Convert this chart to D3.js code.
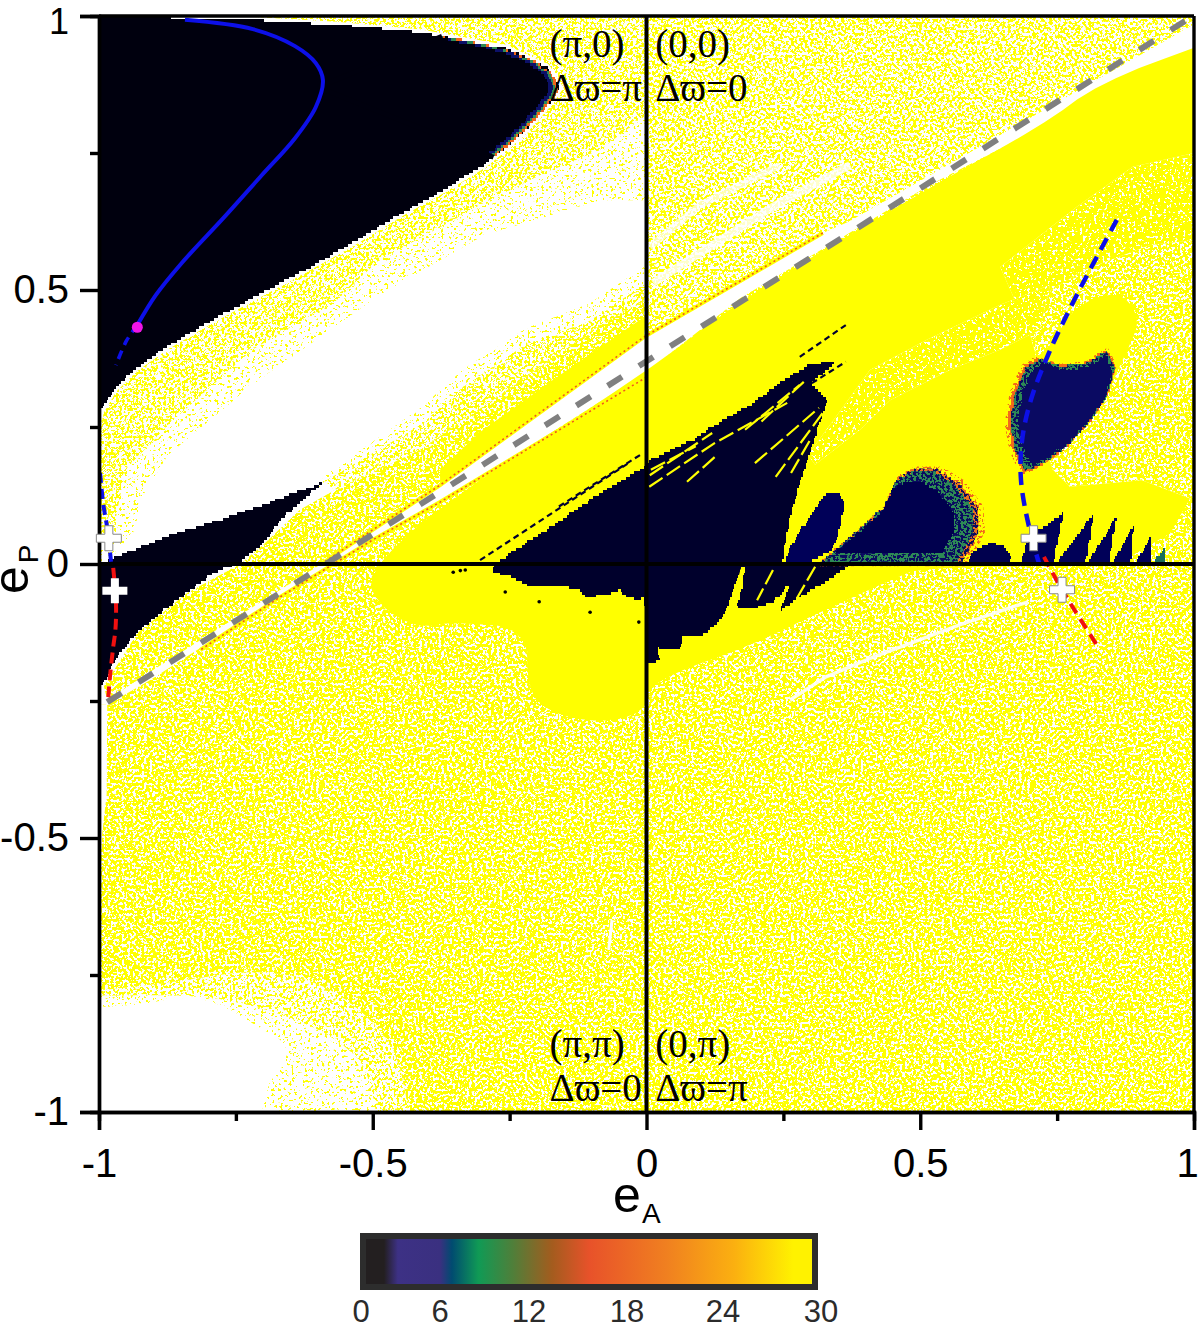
<!DOCTYPE html>
<html><head><meta charset="utf-8">
<script src="https://cdn.jsdelivr.net/npm/d3@7/dist/d3.min.js"></script>
<style>html,body{margin:0;padding:0;background:#fff}svg{display:block}text{font-family:"Liberation Sans",Arial,sans-serif}</style>
</head><body><div id="chart"></div>
<script>
// ---- axis data
const majorTicks=[-1,-0.5,0,0.5,1];
const minorTicks=[-0.75,-0.25,0.25,0.75];
const cbTicks=[0,6,12,18,24,30];
const cbTickPos=[361,440,529,627,723,821];
const cbStops=[[0,"#231f20"],[1.75,"#231f20"],[2.8,"#3d3185"],[6,"#3a3080"],[6.8,"#004b70"],[8.6,"#109a55"],[10.9,"#4f7f3a"],[13.4,"#a35c1e"],[15.7,"#e8522a"],[20.5,"#f08020"],[24.7,"#fbb010"],[28.3,"#fff200"],[30,"#fff200"]];
const mainBlack=[[-1,1],[-.72,.993],[-.565,.984],[-.412,.97],[-.258,.942],[-.182,.907],[-.158,.869],[-.174,.845],[-.227,.785],[-.297,.728],[-.374,.681],[-.45,.639],[-.543,.582],[-.642,.527],[-.72,.485],[-.797,.443],[-.874,.398],[-.934,.356],[-.973,.318],[-.996,.279],[-1,.263]];
const leftWedge=[[-.998,-.002],[-.974,.011],[-.874,.051],[-.72,.1],[-.589,.15],[-.614,.13],[-.669,.08],[-.7,.038],[-.742,.002],[-.792,-.016],[-.839,-.053],[-.888,-.089],[-.93,-.126],[-.967,-.17],[-.992,-.217],[-.998,-.224]];
const bandFringe=[[-1,1],[0,1],[0,.664],[-.085,.664],[-.297,.6],[-.488,.491],[-.565,.436],[-.72,.327],[-.874,.199],[-.925,.117],[-.934,.062],[-.974,.013],[-1,0]];
const bandUpper=[[-1,1],[0,1],[0,.82],[-.085,.756],[-.194,.71],[-.297,.659],[-.373,.617],[-.488,.555],[-.565,.482],[-.72,.391],[-.874,.254],[-.952,.172],[-.97,.08],[-1,.044]];
const lowerFringe=[[0,.545],[-.105,.475],[-.22,.43],[-.335,.355],[-.412,.285],[-.589,.16],[-.6,.14],[-.414,.208],[-.268,.308],[-.085,.436],[0,.482]];
const lowerBand=[[0,.513],[-.105,.443],[-.22,.401],[-.335,.323],[-.412,.254],[-.589,.15],[-.569,.135],[-.414,.208],[-.268,.308],[-.085,.436],[0,.482]];
const midDense=[[0,.482],[-.085,.436],[-.268,.308],[-.414,.208],[-.569,.135],[-.633,.099],[-.7,.035],[-.742,0],[-.839,-.053],[-.93,-.126],[-.991,-.223],[-.985,-.248],[-.907,-.197],[-.591,.002],[-.377,.144],[-.005,.414]];
const midSolid=[[0,.454],[-.158,.345],[-.304,.241],[-.377,.172],[-.377,.144],[-.005,.414]];
const lowerField=[[-1,-1],[1,-1],[1,.94],[.518,.692],[.171,.485],[0,.35],[-.377,.111],[-.5,.04],[-.669,-.06],[-.907,-.212],[-.985,-.257],[-1,-.257]];
const topRight=[[0,1],[1,1],[1,.985],[.646,.783],[.37,.625],[.322,.604],[.171,.513],[0,.414]];
const solidMain=[[1.02,.95],[.828,.878],[.719,.798],[.518,.688],[.171,.482],[0,.35],[-.377,.108],[-.514,-.02],[-.487,-.078],[-.419,-.117],[-.359,-.106],[-.218,-.117],[-.218,-.23],[-.176,-.272],[-.085,-.29],[-.006,-.272],[0,-.23],[.054,-.197],[.185,-.151],[.315,-.089],[.446,-.029],[.509,-.004],[1.06,-.004],[1.06,.96]];
const rightSparse=[[.646,.542],[.786,.652],[.888,.725],[1,.75],[1,.17],[.87,.15],[.75,.18],[.69,.3],[.72,.35],[.7,.42]];
const rightDense=[[.71,.482],[.8,.537],[.92,.582],[1,.591],[1,.117],[.905,.153],[.773,.141],[.742,.172],[.71,.263]];
const heartSolid=[[.737,.391],[.773,.46],[.828,.491],[.874,.491],[.901,.445],[.883,.4],[.861,.354],[.841,.305],[.762,.208],[.689,.166],[.645,.245],[.645,.336]];
const patchB=[[.408,.354],[.512,.409],[.646,.473],[.737,.509],[.718,.427],[.646,.391],[.554,.354],[.445,.299],[.39,.245],[.308,.181],[.295,.199]];
const leftGap=[[-1,-.257],[-.985,-.257],[-.986,-.42],[-.995,-.5],[-1,-.6]];
const bottomFade60=[[-1.1,-.79],[-.84,-.76],[-.72,-.74],[-.6,-.76],[-.5,-.83],[-.44,-.92],[-.42,-1.2],[-1.1,-1.2]];
const bottomFade30=[[-1.1,-.79],[-.84,-.785],[-.74,-.8],[-.64,-.83],[-.56,-.87],[-.5,-.93],[-.47,-1.2],[-1.1,-1.2]];
const bottomWhite=[[-1.1,-.808],[-.946,-.808],[-.837,-.787],[-.773,-.805],[-.7,-.85],[-.664,-.869],[-.655,-.905],[-.7,-.96],[-.705,-1.1],[-1.1,-1.1]];
const fan=[[-.277,0],[-.218,.04],[-.163,.075],[-.103,.117],[-.036,.159],[-.003,.177],[.006,.19],[.085,.226],[.12,.25],[.185,.287],[.251,.336],[.297,.363],[.35,.372],[.3,.33],[.33,.3],[.322,.276],[.302,.214],[.282,.153],[.264,.093],[.249,.013],[.247,0],[.372,-.002],[.311,-.042],[.28,-.06],[.244,-.084],[.262,-.035],[.231,-.071],[.194,-.08],[.167,-.078],[.18,-.005],[.174,-.005],[.152,-.066],[.14,-.097],[.11,-.125],[.098,-.133],[.067,-.133],[.061,-.157],[.019,-.153],[.025,-.175],[.003,-.184],[-.003,-.06],[-.012,-.066],[-.045,-.057],[-.048,-.047],[-.072,-.057],[-.109,-.06],[-.127,-.044],[-.171,-.042],[-.218,-.038],[-.246,-.024],[-.28,-.016],[-.282,-.004]];
const lensLobe=[[.247,.007],[.302,.093],[.33,.13],[.348,.131],[.361,.117],[.355,.068],[.342,.031],[.322,.013],[.28,0]];
const bigLobe=[[.315,0],[.381,.057],[.434,.104],[.459,.159],[.487,.172],[.532,.172],[.571,.148],[.604,.104],[.607,.057],[.578,.004],[.572,0]];
const smallLobe=[[.582,0],[.598,.026],[.631,.04],[.657,.031],[.669,0]];
const tooth1=[[.682,0],[.698,.049],[.762,.093],[.742,0]];
const tooth2=[[.748,0],[.817,.093],[.801,0]];
const tooth3=[[.804,0],[.859,.086],[.843,0]];
const tooth4=[[.85,0],[.89,.071],[.883,0]];
const tooth5=[[.892,0],[.919,.047],[.921,0]];
const tooth6=[[.925,0],[.945,.029],[.948,0]];
const teardrop=[[.689,.166],[.669,.208],[.66,.257],[.669,.312],[.689,.36],[.715,.376],[.755,.363],[.801,.367],[.841,.391],[.857,.36],[.841,.305],[.808,.257],[.762,.208],[.715,.177]];
const fanStreaks=[[[.005,.141],[.125,.221],[.257,.294]],[[.198,.184],[.315,.285]],[[.236,.159],[.322,.276]],[[.074,.15],[.129,.199]],[[.264,.166],[.302,.232]],[[.006,.162],[.12,.239]],[[.18,.245],[.28,.327]],[[.21,.26],[.29,.335]],[[.008,.172],[.09,.215]],[[-.194,.08],[-.02,.178]],[[.231,-.011],[.202,-.066]],[[.308,-.005],[.275,-.062]],[[.174,-.009],[.152,-.09]]];
const darkFringes=[[[.28,.378],[.364,.436]],[[.302,.33],[.364,.369]],[[-.304,.007],[-.03,.186]],[[-.16,.105],[-.01,.2]]];
const darkDots=[[-.258,-.051],[-.196,-.069],[-.103,-.088],[-.014,-.106],[-.331,-.011],[-.353,-.015],[-.34,-.012]];
const resUpper=[[.322,.604],[-.005,.414],[-.377,.144],[-.591,.002]];
const resLower=[[0,.341],[-.377,.113],[-.5,.044],[-.669,-.06],[-.815,-.157]];
const greyLine=[[-.985,-.252],[.987,.993]];
const whiteStreakLow=[[.697,-.069],[.572,-.111],[.414,-.17],[.328,-.206],[.262,-.248]];
const whiteMark=[[-.063,-.65],[-.069,-.704]];
const whiteStreakA=[[.006,.579],[.098,.655],[.244,.728]];
const whiteStreakB=[[.012,.513],[.231,.652],[.372,.728]];
const blueSolid=[[-.843,.993],[-.719,.976],[-.642,.945],[-.604,.914],[-.591,.883],[-.604,.834],[-.642,.777],[-.704,.708],[-.773,.631],[-.85,.548],[-.896,.491],[-.93,.436]];
const blueTail=[[-.93,.436],[-.95,.407],[-.969,.363]];
const blueLeft=[[-.998,.166],[-.992,.108],[-.985,.066],[-.978,.004]];
const redLeft=[[-.974,-.007],[-.969,-.071],[-.97,-.12],[-.974,-.151],[-.98,-.206],[-.983,-.243]];
const blueRight=[[.859,.628],[.786,.491],[.735,.385],[.702,.299],[.686,.226],[.684,.153],[.7,.062],[.718,-.002]];
const redRight=[[.726,.013],[.759,-.047],[.826,-.153]];
const magentaPoint=[[-.93,.432]];
const plusOutlined=[[-.982,.047],[.707,.047],[.759,-.047]];
const plusPlain=[[-.971,-.049]];
const notes=[[-.177,.925,"(π,0)"],[-.177,.845,"Δϖ=π"],[.016,.925,"(0,0)"],[.016,.845,"Δϖ=0"],[-.177,-.9,"(π,π)"],[-.177,-.98,"Δϖ=0"],[.016,-.9,"(0,π)"],[.016,-.98,"Δϖ=π"]];

const W=1200,H=1329;
const x=d3.scaleLinear().domain([-1,1]).range([99,1194]);
const y=d3.scaleLinear().domain([-1,1]).range([1112,16]);
const svg=d3.select("#chart").append("svg").attr("width",W).attr("height",H);
const defs=svg.append("defs");
defs.append("clipPath").attr("id","plot").append("rect").attr("x",x(-1)).attr("y",y(1)).attr("width",x(1)-x(-1)).attr("height",y(-1)-y(1));

// stipple texture: SVG turbulence thresholded to a coverage level
function makeSpeck(id,color,t,seed){
  const c=d3.rgb(color);
  const f=defs.append("filter").attr("id",id).attr("filterUnits","userSpaceOnUse").attr("x",0).attr("y",0).attr("width",W).attr("height",H).attr("color-interpolation-filters","sRGB");
  f.append("feTurbulence").attr("type","fractalNoise").attr("baseFrequency",0.36).attr("numOctaves",2).attr("seed",seed).attr("result","n");
  const k=30;
  f.append("feColorMatrix").attr("in","n").attr("type","matrix").attr("values",`0 0 0 0 ${c.r/255} 0 0 0 0 ${c.g/255} 0 0 0 0 ${c.b/255} ${k} 0 0 0 ${-k*t}`).attr("result","m");
  f.append("feComposite").attr("in","m").attr("in2","SourceAlpha").attr("operator","in");
}
const Y="#ffff00";
makeSpeck("s90",Y,0.36,3);
makeSpeck("s78",Y,0.44,5);
makeSpeck("s60",Y,0.49,7);
makeSpeck("s45",Y,0.52,9);
makeSpeck("s15",Y,0.62,11);
makeSpeck("sNavy","#0a0a60",0.49,13);
makeSpeck("sOrange","#f26a1b",0.56,15);

const line=d3.line().x(d=>x(d[0])).y(d=>y(d[1]));
const smooth=d3.line().x(d=>x(d[0])).y(d=>y(d[1])).curve(d3.curveCatmullRom);
const stepLine=d3.line().curve(d3.curveStep);
// corner-rounding of a closed outline, in data space
function rounded(pts,n){
  let out=pts;
  for(let i=0;i<n;i++){
    const r=[];
    out.forEach((p,j)=>{const q=out[(j+1)%out.length];r.push([.75*p[0]+.25*q[0],.75*p[1]+.25*q[1]],[.25*p[0]+.75*q[0],.25*p[1]+.75*q[1]]);});
    out=r;
  }
  return out;
}
// outline drawn on the map's cell grid, so edges step like the original raster
const CELL=2.74;
function stairs(pts){
  const px=pts.map(d=>[x(d[0]),y(d[1])]);px.push(px[0]);
  const res=[];
  for(let i=0;i<px.length-1;i++){
    const [a,b]=[px[i],px[i+1]],L=Math.hypot(b[0]-a[0],b[1]-a[1]),n=Math.max(1,Math.round(L/CELL));
    for(let j=0;j<n;j++){const t=j/n;res.push([Math.round((a[0]+(b[0]-a[0])*t)/CELL)*CELL,Math.round((a[1]+(b[1]-a[1])*t)/CELL)*CELL]);}
  }
  return stepLine(res)+"Z";
}
const g=svg.append("g").attr("clip-path","url(#plot)");
g.append("rect").attr("x",x(-1)).attr("y",y(1)).attr("width",x(1)-x(-1)).attr("height",y(-1)-y(1)).attr("fill","#fff");
const area=(pts,fill)=>g.append("path").attr("d",line(pts)+"Z").attr("fill",fill);
const speck=(pts,id)=>g.append("path").attr("d",line(pts)+"Z").attr("fill","#000").attr("filter",`url(#${id})`);
const dark=(pts,fill)=>g.append("path").attr("d",stairs(pts)).attr("fill",fill).attr("shape-rendering","crispEdges");
const darkSpeck=(pts,id)=>g.append("path").attr("d",stairs(pts)).attr("fill","#000").attr("filter",`url(#${id})`);
const stroke=(pts,col,w,dash,gen)=>{const p=g.append("path").attr("d",(gen||line)(pts)).attr("fill","none").attr("stroke",col).attr("stroke-width",w);if(dash)p.attr("stroke-dasharray",dash);return p;};
const shrink=(pts,c,k)=>pts.map(p=>[c[0]+(p[0]-c[0])*k,c[1]+(p[1]-c[1])*k]);

// stipple fields
speck(lowerField,"s78");
speck(bandFringe,"s15");
speck(bandUpper,"s45");
speck(lowerFringe,"s15");
speck(lowerBand,"s45");
speck(midDense,"s78");
area(midSolid,Y);
speck(topRight,"s60");
stroke(whiteStreakA,"#fff",7).attr("opacity",.7);
stroke(whiteStreakB,"#fff",8).attr("opacity",.8);
area(leftGap,"#fff");
const fade60=rounded(bottomFade60,2),fade30=rounded(bottomFade30,2);
area(fade60,"#fff"); speck(fade60,"s45");
area(fade30,"#fff"); speck(fade30,"s15");
area(rounded(bottomWhite,1),"#fff");
// solid yellow
area(rounded(solidMain,2),Y);
area(rightSparse,"#fff"); speck(rightSparse,"s90");
area(rightDense,"#fff"); speck(rightDense,"s78");
area(patchB,"#fff"); speck(patchB,"s90");
area(rounded(heartSolid,2),Y);
stroke(whiteStreakLow,"#fff",3.5).attr("opacity",.9);
stroke(whiteMark,"#fff",3);
// resonance lines
stroke(resUpper,Y,4);stroke(resLower,Y,4);
stroke(resUpper,"#f2571b",1.6,"2 3");stroke(resLower,"#f2571b",1.6,"2 3");

// stable regions
g.append("path").attr("d",line(mainBlack)+"Z").attr("fill","#fff").attr("stroke","#fff").attr("stroke-width",6);
dark(mainBlack,"#00000e");
const tipC=[-.6,.87];
const tipArc=rounded(mainBlack.slice(3,10),1).slice(0,-2);
const tip=[tipC].concat(tipArc);
const endA=tip[1],endB=tip[tip.length-1];
[[1,"#f2651b"],[.99,"#2d8a55"],[.98,"#0c1068"],[.962,"#00000e"]].forEach(([k,c])=>dark(shrink(tip,tipC,k),c));
stroke([tipC,endA],"#00000e",5);stroke([tipC,endB],"#00000e",5);
dark(leftWedge,"#000016");
dark(fan,"#00002c");
dark(rounded(lensLobe,1),"#000058");
const bigC=[.42,.07];
speck(shrink(bigLobe,bigC,1.06),"sOrange");
dark(bigLobe,"#e8701e");
darkSpeck(bigLobe,"sNavy");
dark(shrink(bigLobe,bigC,.95),"#2d8a55");
darkSpeck(shrink(bigLobe,bigC,.95),"sNavy");
dark(shrink(bigLobe,bigC,.76),"#00004e");
dark(rounded(smallLobe,1),"#00004e");
[tooth1,tooth2,tooth3,tooth4,tooth5].forEach(t=>dark(t,"#000058"));
dark(tooth6,"#1c6e5a");
const dropC=[.81,.29];
speck(shrink(teardrop,dropC,1.04),"sOrange");
dark(teardrop,"#f26a1b");
dark(shrink(teardrop,dropC,.97),"#2d8a55");
darkSpeck(shrink(teardrop,dropC,.97),"sNavy");
dark(shrink(teardrop,dropC,.88),"#0a0a62");
fanStreaks.forEach(s=>stroke(s,Y,2.2,"16 5"));
darkFringes.forEach(s=>stroke(s,"#000030",2.2,"6 4"));
g.selectAll("circle.dot").data(darkDots).join("circle").attr("cx",d=>x(d[0])).attr("cy",d=>y(d[1])).attr("r",1.8).attr("fill","#000");

// overlaid curves
const Gy=svg.append("g");
const over=(pts,col,w,dash,gen)=>{const p=Gy.append("path").attr("d",(gen||line)(pts)).attr("fill","none").attr("stroke",col).attr("stroke-width",w);if(dash)p.attr("stroke-dasharray",dash);return p;};
over(greyLine,"#808080",6,"17 20");
over(blueSolid,"#0d10e8",4,null,smooth);
over(blueTail,"#0d10e8",3.6,"9 6",smooth);
over(blueLeft,"#0d10e8",4,"10 6",smooth);
over(redLeft,"#f01010",4,"11 6",smooth);
over(blueRight,"#0d10e8",4.5,"13 8",smooth);
over(redRight,"#f01010",4,"11 7",smooth);
Gy.selectAll("circle.m").data(magentaPoint).join("circle").attr("cx",d=>x(d[0])).attr("cy",d=>y(d[1])).attr("r",5.5).attr("fill","#f014e6");

// axes
const fmt=d=>String(d);
const xMaj=d3.axisBottom(x).tickValues(majorTicks).tickSize(18).tickPadding(19).tickFormat(fmt);
const xMin=d3.axisBottom(x).tickValues(minorTicks).tickSize(9).tickFormat("");
const yMaj=d3.axisLeft(y).tickValues(majorTicks).tickSize(19).tickPadding(11).tickFormat(fmt);
const yMin=d3.axisLeft(y).tickValues(minorTicks).tickSize(9).tickFormat("");
const ax=svg.append("g");
const style=s=>{s.selectAll("path.domain").attr("stroke","#000").attr("stroke-width",3.4);s.selectAll("line").attr("stroke","#000").attr("stroke-width",3.4);s.selectAll("text").attr("font-size",40).style("font-family","'Liberation Sans'").attr("fill","#000");};
const gxM=ax.append("g").attr("transform",`translate(0,${y(-1)})`).call(xMaj).call(style);
ax.append("g").attr("transform",`translate(0,${y(-1)})`).call(xMin).call(style);
const gyM=ax.append("g").attr("transform",`translate(${x(-1)},0)`).call(yMaj).call(style);
ax.append("g").attr("transform",`translate(${x(-1)},0)`).call(yMin).call(style);
// keep the outermost labels inside the canvas, as in the original
gxM.selectAll(".tick text").filter(d=>d===1).attr("dx",-7);
gyM.selectAll(".tick text").filter(d=>d===1).attr("font-size",36).attr("dy","0.48em");
[[[[-1,1],[1,1]],3.4],[[[1,1],[1,-1]],3.4],[[[-1,0],[1,0]],4],[[[0,-1],[0,1]],4]].forEach(([l,w])=>{
  ax.append("path").attr("d",line(l)).attr("stroke","#000").attr("stroke-width",w).attr("fill","none");
});

// white plus markers
const plusG=svg.append("g");
function plus(d,outline){
  const h=12.5,t=4;
  const cx=x(d[0]),cy=y(d[1]);
  const pth=`M${cx-t},${cy-h}H${cx+t}V${cy-t}H${cx+h}V${cy+t}H${cx+t}V${cy+h}H${cx-t}V${cy+t}H${cx-h}V${cy-t}H${cx-t}Z`;
  plusG.append("path").attr("d",pth).attr("fill","#fff").attr("stroke",outline?"#888":"#fff").attr("stroke-width",outline?1:0);
}
plusOutlined.forEach(d=>plus(d,true));
plusPlain.forEach(d=>plus(d,false));

// quadrant notes
svg.append("g").selectAll("text").data(notes).join("text").attr("x",d=>x(d[0])).attr("y",d=>y(d[1])).text(d=>d[2])
  .style("font-family","'Liberation Serif',serif").attr("font-size",39).attr("fill","#000");

// axis titles
const tx=svg.append("text").attr("x",613).attr("y",1212).attr("font-size",50);
tx.append("tspan").text("e");
tx.append("tspan").attr("x",642).attr("y",1223).attr("font-size",28).text("A");
const ty=svg.append("text").attr("transform","translate(28,594) rotate(-90)").attr("font-size",50);
ty.append("tspan").text("e");
ty.append("tspan").attr("dx",3).attr("dy",10).attr("font-size",28).text("P");

// colour bar
const cb=d3.scaleLinear().domain(cbTicks).range(cbTickPos);
const grad=defs.append("linearGradient").attr("id","cbg").attr("gradientUnits","userSpaceOnUse").attr("x1",cb(0)).attr("x2",cb(30)).attr("y1",0).attr("y2",0);
grad.selectAll("stop").data(cbStops).join("stop").attr("offset",d=>(cb(d[0])-cb(0))/(cb(30)-cb(0))).attr("stop-color",d=>d[1]);
svg.append("rect").attr("x",363).attr("y",1236).attr("width",452).attr("height",51).attr("fill","url(#cbg)").attr("stroke","#2d2d2d").attr("stroke-width",6);
svg.append("g").selectAll("text").data(cbTicks).join("text").attr("x",d=>cb(d)).attr("y",1322).attr("text-anchor","middle").attr("font-size",31).attr("fill","#2b2b2b").text(d=>d);
</script></body></html>
